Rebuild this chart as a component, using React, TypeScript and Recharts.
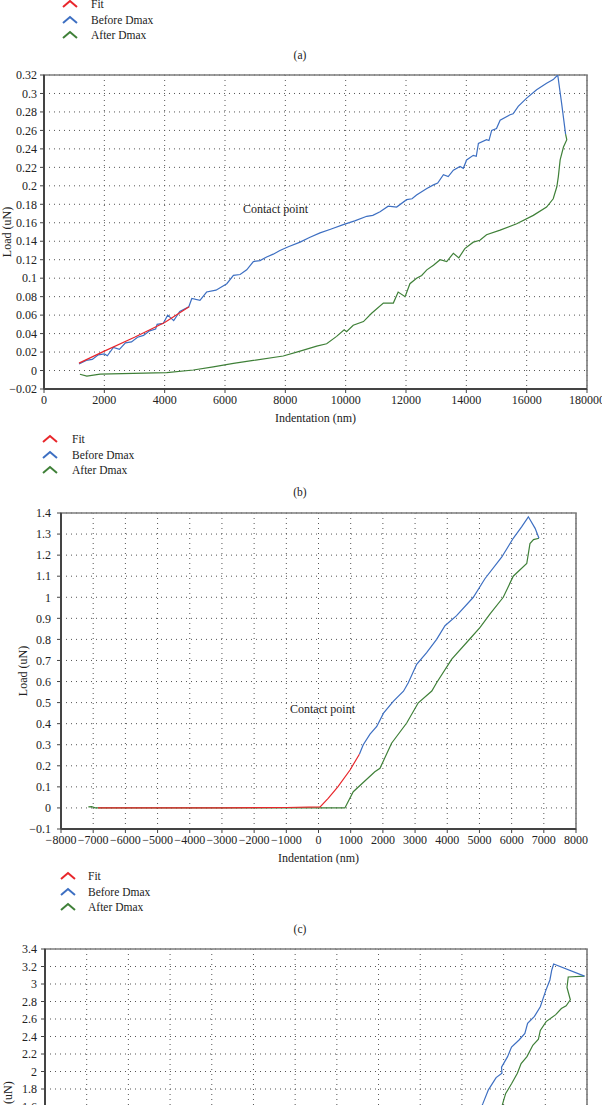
import React from 'react';
import { LineChart, Line, XAxis, YAxis, CartesianGrid, ReferenceArea, ReferenceDot } from 'recharts';

type Pt = [number, number];

const FONT = '"Liberation Serif", "Times New Roman", serif';

const seriesNames = ['Fit', 'Before Dmax', 'After Dmax'];
const seriesColors = ['#e8262b', '#3d6fc2', '#3f8038'];
const panelLabels = ['(a)', '(b)', '(c)'];

// ---- panel (b): 0..18000 nm
const bXTicks = [0, 2000, 4000, 6000, 8000, 10000, 12000, 14000, 16000, 18000];
const bXTickLabels = ['0', '2000', '4000', '6000', '8000', '10000', '12000', '14000', '16000', '180000'];
const bYTicks = [-0.02, 0, 0.02, 0.04, 0.06, 0.08, 0.1, 0.12, 0.14, 0.16, 0.18, 0.2, 0.22, 0.24, 0.26, 0.28, 0.3, 0.32];

const bFit: Pt[] = [[1160, 0.008], [2000, 0.021], [3000, 0.036], [4000, 0.052], [4810, 0.069]];

const bBefore: Pt[] = [
  [1160, 0.007], [1400, 0.011], [1600, 0.012], [1800, 0.017], [2000, 0.018], [2100, 0.016], [2300, 0.025],
  [2500, 0.023], [2700, 0.03], [2900, 0.031], [3100, 0.036], [3300, 0.038], [3500, 0.043], [3700, 0.045],
  [3750, 0.05], [3950, 0.051], [4100, 0.06], [4300, 0.054], [4500, 0.064], [4800, 0.069], [4900, 0.078],
  [5170, 0.076], [5390, 0.085], [5700, 0.087], [6060, 0.094], [6280, 0.103], [6500, 0.104], [6720, 0.109],
  [6940, 0.118], [7160, 0.119], [7380, 0.123], [7600, 0.126], [7820, 0.13], [8100, 0.134], [8490, 0.139],
  [8800, 0.144], [9150, 0.149], [9500, 0.153], [9920, 0.158], [10300, 0.162], [10700, 0.167], [10900, 0.168],
  [11140, 0.172], [11410, 0.178], [11690, 0.177], [12020, 0.185], [12200, 0.186], [12350, 0.19], [12690, 0.197],
  [12910, 0.201], [13050, 0.203], [13240, 0.212], [13400, 0.21], [13570, 0.217], [13790, 0.221], [13900, 0.219],
  [14010, 0.228], [14230, 0.233], [14330, 0.232], [14400, 0.246], [14670, 0.25], [14750, 0.249], [14840, 0.26],
  [15000, 0.262], [15120, 0.271], [15450, 0.277], [15550, 0.278], [15720, 0.286], [16000, 0.295], [16330, 0.304],
  [16660, 0.311], [16880, 0.315], [17030, 0.32], [17160, 0.289], [17290, 0.256],
];

const bAfter: Pt[] = [
  [17290, 0.256], [17330, 0.25], [17220, 0.242], [17110, 0.228], [17050, 0.21], [17000, 0.199], [16880, 0.186],
  [16660, 0.177], [16220, 0.168], [15670, 0.159], [15120, 0.152], [14670, 0.147], [14450, 0.141], [14230, 0.139],
  [13950, 0.132], [13750, 0.122], [13570, 0.127], [13350, 0.118], [13130, 0.12], [12910, 0.114], [12690, 0.109],
  [12520, 0.103], [12350, 0.1], [12130, 0.094], [11970, 0.08], [11740, 0.085], [11580, 0.073], [11250, 0.073],
  [10860, 0.062], [10590, 0.053], [10250, 0.049], [10030, 0.042], [9950, 0.044], [9700, 0.037], [9370, 0.029],
  [9040, 0.0265], [8490, 0.021], [7930, 0.0157], [6940, 0.011], [6280, 0.0078], [5610, 0.004], [4950, 0.0006],
  [4070, -0.0023], [2960, -0.003], [1860, -0.0038], [1420, -0.006], [1190, -0.004],
];

// ---- panel (c): -8000..8000 nm
const cXTicks = [-8000, -7000, -6000, -5000, -4000, -3000, -2000, -1000, 0, 1000, 2000, 3000, 4000, 5000, 6000, 7000, 8000];
const cYTicks = [-0.1, 0, 0.1, 0.2, 0.3, 0.4, 0.5, 0.6, 0.7, 0.8, 0.9, 1, 1.1, 1.2, 1.3, 1.4];

const cFit: Pt[] = [[-6850, 0], [-3000, 0.0], [-1000, 0.002], [50, 0.005], [300, 0.045], [600, 0.1], [980, 0.18], [1270, 0.255]];

const cBefore: Pt[] = [
  [1270, 0.255], [1390, 0.3], [1600, 0.35], [1810, 0.387], [2020, 0.45], [2330, 0.507], [2640, 0.554],
  [2790, 0.594], [3050, 0.682], [3360, 0.737], [3670, 0.8], [3930, 0.865], [4290, 0.913], [4810, 1.0],
  [5170, 1.088], [5690, 1.19], [6050, 1.28], [6310, 1.334], [6520, 1.382], [6730, 1.327], [6850, 1.28],
];

const cAfter: Pt[] = [
  [6850, 1.28], [6680, 1.274], [6570, 1.255], [6470, 1.16], [6050, 1.1], [5740, 1.0], [5330, 0.921],
  [5020, 0.857], [4700, 0.802], [4140, 0.706], [3670, 0.594], [3520, 0.555], [3100, 0.499], [2740, 0.403],
  [2270, 0.307], [1910, 0.188], [1750, 0.172], [1080, 0.077], [820, 0], [-6940, 0], [-7050, 0.006], [-7150, 0.005],
];

// ---- panel (d): only the top is in frame
const dXTicks = [-10000, -9000, -8000, -7000, -6000, -5000, -4000, -3000, -2000, -1000, 0, 1000, 2000, 3000];
const dYTicks = [-0.2, 0, 0.2, 0.4, 0.6, 0.8, 1, 1.2, 1.4, 1.6, 1.8, 2, 2.2, 2.4, 2.6, 2.8, 3, 3.2, 3.4];

const dBefore: Pt[] = [
  [-9500, 0], [-2000, 0], [-800, 0.3], [-200, 0.9], [200, 1.3], [500, 1.63], [635, 1.79], [820, 1.93],
  [960, 1.98], [950, 2.05], [1095, 2.17], [1190, 2.28], [1370, 2.36], [1510, 2.436], [1575, 2.55],
  [1740, 2.63], [1880, 2.74], [2015, 2.93], [2110, 3.046], [2155, 3.16], [2200, 3.229], [2940, 3.09],
];

const dAfter: Pt[] = [
  [2940, 3.09], [2550, 3.08], [2520, 2.96], [2600, 2.82], [2500, 2.75], [2385, 2.72], [2250, 2.65],
  [2020, 2.57], [1880, 2.47], [1835, 2.37], [1700, 2.3], [1560, 2.17], [1420, 2.09], [1330, 1.98],
  [1190, 1.86], [1050, 1.75], [1000, 1.67], [900, 1.5], [600, 1.2], [200, 0.7], [-300, 0.2], [-500, 0], [-9500, 0],
];

const rows = (pts: Pt[]) => pts.map(([x, y]) => ({ x, y }));
const minus = (v: number) => String(v).replace('-', '\u2212');

const yTitle = (cx: number) => (props: any) => {
  const vb = props.viewBox || {};
  const cy = (vb.y ?? 0) + (vb.height ?? 0) / 2;
  return (
    <text x={cx} y={cy} transform={`rotate(-90 ${cx} ${cy})`} textAnchor="middle" dominantBaseline="central"
      fontFamily={FONT} fontSize={12} fill="#222">Load (uN)</text>
  );
};

const xTitle = (props: any) => {
  const vb = props.viewBox || {};
  const cx = (vb.x ?? 0) + (vb.width ?? 0) / 2;
  const cy = (vb.y ?? 0) + 29;
  return (
    <text x={cx} y={cy} textAnchor="middle" dominantBaseline="central" fontFamily={FONT} fontSize={12} fill="#222">
      Indentation (nm)
    </text>
  );
};

type PanelProps = {
  top: number;
  margin: { top: number; right: number; bottom: number; left: number };
  yWidth: number;
  yGap: number;
  yLabelX: number;
  xTicks: number[];
  xLabels?: string[];
  yTicks: number[];
  fit?: Pt[];
  before: Pt[];
  after: Pt[];
  contact?: Pt;
};

function Panel(p: PanelProps) {
  const xDom = [p.xTicks[0], p.xTicks[p.xTicks.length - 1]];
  const yDom = [p.yTicks[0], p.yTicks[p.yTicks.length - 1]];
  const tickStyle = { fontFamily: FONT, fontSize: 12, fill: '#222' };
  const height = 380;
  return (
    <div style={{ position: 'absolute', left: 0, top: p.top, width: 602, height }}>
      <LineChart width={602} height={height} margin={p.margin}>
        <CartesianGrid stroke="#555" strokeDasharray="1 4" />
        <ReferenceArea x1={xDom[0]} x2={xDom[1]} y1={yDom[0]} y2={yDom[1]} fill="none" stroke="#7c7c7c" strokeWidth={1.6} />
        <XAxis type="number" dataKey="x" domain={xDom} ticks={p.xTicks} interval={0} allowDataOverflow
          tick={tickStyle} tickSize={4} tickMargin={2} height={35}
          axisLine={{ stroke: '#444', strokeWidth: 1.8 }} tickLine={{ stroke: '#444' }}
          tickFormatter={(v: number, i: number) => (p.xLabels ? p.xLabels[i] : minus(v))}
          label={xTitle} />
        <YAxis type="number" dataKey="y" domain={yDom} ticks={p.yTicks} interval={0} allowDataOverflow
          width={p.yWidth} tick={tickStyle} tickSize={4} tickMargin={p.yGap}
          axisLine={{ stroke: '#444', strokeWidth: 2 }} tickLine={{ stroke: '#444' }}
          tickFormatter={(v: number) => minus(v)}
          label={yTitle(p.yLabelX)} />
        <Line data={rows(p.after)} dataKey="y" type="linear" stroke={seriesColors[2]} strokeWidth={1.2} dot={false} isAnimationActive={false} />
        <Line data={rows(p.before)} dataKey="y" type="linear" stroke={seriesColors[1]} strokeWidth={1.2} dot={false} isAnimationActive={false} />
        {p.fit && (
          <Line data={rows(p.fit)} dataKey="y" type="linear" stroke={seriesColors[0]} strokeWidth={1.2} dot={false} isAnimationActive={false} />
        )}
        {p.contact && (
          <ReferenceDot x={p.contact[0]} y={p.contact[1]} r={0} stroke="none" fill="none"
            label={{ value: 'Contact point', position: 'right', fill: '#222', fontSize: 12, fontFamily: FONT }} />
        )}
      </LineChart>
    </div>
  );
}

function ChevronLegend({ top, iconX, textX }: { top: number; iconX: number; textX: number }) {
  return (
    <>
      {seriesNames.map((name, i) => (
        <div key={name} style={{ position: 'absolute', left: 0, top: top + i * 15.5 - 8, height: 16, width: 300 }}>
          <svg width={18} height={10} style={{ position: 'absolute', left: iconX, top: 3 }}>
            <polyline points="1,8 8,2 15,8" fill="none" stroke={seriesColors[i]} strokeWidth={2} />
          </svg>
          <span style={{ position: 'absolute', left: textX, top: 0, lineHeight: '16px', fontFamily: FONT, fontSize: 11.5, color: '#222', whiteSpace: 'nowrap' }}>
            {name}
          </span>
        </div>
      ))}
    </>
  );
}

function PanelLabel({ text, y }: { text: string; y: number }) {
  return (
    <div style={{ position: 'absolute', left: 250, width: 100, top: y - 8, lineHeight: '16px', textAlign: 'center', fontFamily: FONT, fontSize: 11.5, color: '#222' }}>
      {text}
    </div>
  );
}

export default function App() {
  return (
    <div style={{ position: 'absolute', left: 0, top: 0, width: 602, height: 1105, overflow: 'hidden', background: '#fff' }}>
      <ChevronLegend top={4} iconX={62} textX={91} />
      <PanelLabel text={panelLabels[0]} y={55} />

      <Panel top={60} margin={{ top: 15, right: 15, bottom: 16, left: 4 }} yWidth={40} yGap={3} yLabelX={7}
        xTicks={bXTicks} xLabels={bXTickLabels} yTicks={bYTicks}
        fit={bFit} before={bBefore} after={bAfter} contact={[6430, 0.175]} />

      <ChevronLegend top={439} iconX={42} textX={72} />
      <PanelLabel text={panelLabels[1]} y={492} />

      <Panel top={500} margin={{ top: 13, right: 26, bottom: 16, left: 4 }} yWidth={57} yGap={6} yLabelX={23}
        xTicks={cXTicks} yTicks={cYTicks}
        fit={cFit} before={cBefore} after={cAfter} contact={[-1041, 0.473]} />

      <ChevronLegend top={876} iconX={60} textX={88} />
      <PanelLabel text={panelLabels[2]} y={929} />

      <Panel top={935} margin={{ top: 14, right: 15, bottom: 16, left: 4 }} yWidth={41} yGap={4} yLabelX={8}
        xTicks={dXTicks} yTicks={dYTicks}
        before={dBefore} after={dAfter} />
    </div>
  );
}
